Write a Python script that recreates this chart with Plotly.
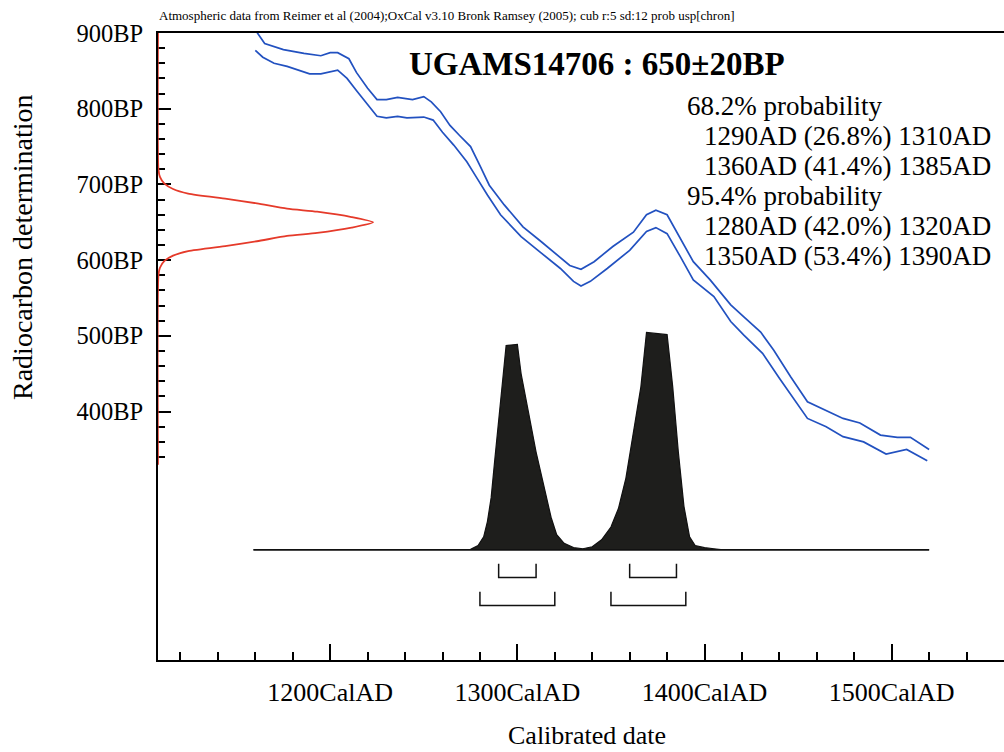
import plotly.graph_objects as go

# ---------------- data ----------------
# calibration curve (+/- 1 sigma envelope), CalAD vs BP
upper_years = [1160, 1165, 1175, 1186, 1195, 1200, 1204, 1210, 1214, 1220, 1225, 1230, 1236, 1244,
               1250, 1254, 1259, 1264, 1269, 1275, 1280, 1285, 1293, 1303, 1312, 1321, 1328, 1334,
               1341, 1351, 1362, 1369, 1374, 1380, 1387, 1394, 1403, 1414, 1421, 1430, 1437, 1446,
               1455, 1463, 1474, 1483, 1494, 1503, 1510, 1520]
upper_bp = [904, 886, 878, 873, 870, 874, 874, 866, 848, 827, 812, 812, 815, 812,
            816, 809, 796, 778, 765, 750, 725, 699, 673, 644, 626, 607, 593, 588,
            598, 618, 637, 660, 666, 660, 629, 598, 574, 541, 525, 505, 481, 446,
            413, 404, 391, 385, 369, 366, 366, 350]

lower_years = [1160, 1164, 1170, 1177, 1189, 1195, 1204, 1209, 1214, 1220, 1225, 1230, 1236, 1241,
               1250, 1255, 1260, 1266, 1273, 1278, 1284, 1291, 1302, 1312, 1323, 1330, 1334, 1339,
               1348, 1360, 1369, 1374, 1380, 1387, 1394, 1405, 1414, 1421, 1431, 1440, 1448, 1455,
               1465, 1474, 1485, 1497, 1508, 1519]
lower_bp = [877, 868, 860, 856, 846, 846, 851, 840, 824, 805, 790, 788, 790, 788,
            789, 785, 769, 752, 730, 710, 686, 660, 631, 611, 589, 572, 566, 572,
            589, 613, 638, 643, 635, 605, 574, 552, 519, 501, 477, 444, 415, 391,
            380, 367, 360, 344, 350, 335]

# calibrated probability distribution (relative density)
prob_years = [1159, 1270, 1275, 1279, 1282, 1284, 1286, 1288, 1291, 1294, 1300, 1302, 1306, 1310,
              1314, 1318, 1321, 1325, 1330, 1335, 1340, 1345, 1350, 1354, 1358, 1362, 1366, 1369,
              1380, 1383, 1386, 1389, 1392, 1395, 1400, 1405, 1410, 1520]
prob_density = [0, 0, 0.002, 0.02, 0.06, 0.13, 0.24, 0.42, 0.67, 0.94, 0.945, 0.81, 0.63, 0.45,
                0.3, 0.15, 0.07, 0.03, 0.01, 0.005, 0.014, 0.046, 0.105, 0.19, 0.33, 0.55, 0.75, 1.0,
                0.99, 0.75, 0.45, 0.2, 0.06, 0.02, 0.01, 0.005, 0, 0]

# radiocarbon determination 650 +/- 20 BP (relative density)
rc_bp = [900, 720, 710, 701, 694, 688, 681, 675, 668, 664, 657, 650, 643, 636, 632, 625,
         619, 612, 606, 599, 590, 580, 330]
rc_density = [0, 0.002, 0.009, 0.03, 0.07, 0.14, 0.32, 0.46, 0.6, 0.74, 0.9, 1.0, 0.9, 0.74, 0.6, 0.46,
              0.32, 0.14, 0.07, 0.03, 0.009, 0.002, 0]

range68 = [(1290, 1310), (1360, 1385)]
range95 = [(1280, 1320), (1350, 1390)]

x_tick_vals = [1200, 1300, 1400, 1500]
x_tick_text = ["1200CalAD", "1300CalAD", "1400CalAD", "1500CalAD"]
x_minor_vals = [v for v in range(1120, 1561, 20) if v % 100 != 0]
y_tick_vals = [400, 500, 600, 700, 800, 900]
y_tick_text = ["400BP", "500BP", "600BP", "700BP", "800BP", "900BP"]
y_minor_vals = [v for v in range(340, 900, 20) if v % 100 != 0]

title_text = "UGAMS14706 : 650±20BP"
header_text = ("Atmospheric data from Reimer et al (2004);OxCal v3.10 Bronk Ramsey (2005); "
               "cub r:5 sd:12 prob usp[chron]")
prob_lines = [
    ("68.2% probability", 0),
    ("1290AD (26.8%) 1310AD", 1),
    ("1360AD (41.4%) 1385AD", 1),
    ("95.4% probability", 0),
    ("1280AD (42.0%) 1320AD", 1),
    ("1350AD (53.4%) 1390AD", 1),
]

# ---------------- layout constants ----------------
X0, X1 = 1108, 1560
Y0, Y1 = 72, 900
DIST_BASE = 217.5      # BP level of distribution baseline
DIST_SCALE = 287.0     # BP per unit density
RC_SCALE = 114.9       # years per unit density (red curve)
BR68_Y, BR68_H = 181, 18
BR95_Y, BR95_H = 144, 18
FONT = "Liberation Serif"
W, H = 1004, 752
ML, MR, MT, MB = 158, 0, 33, 92
BLUE = "#2251c0"
RED = "#e53a2a"

fig = go.Figure()

# calibration curve
fig.add_trace(go.Scatter(x=upper_years, y=upper_bp, mode="lines",
                         line=dict(color=BLUE, width=1.7), hoverinfo="skip"))
fig.add_trace(go.Scatter(x=lower_years, y=lower_bp, mode="lines",
                         line=dict(color=BLUE, width=1.7), hoverinfo="skip"))

# calibrated distribution (filled)
dx = prob_years + prob_years[::-1]
dy = [DIST_BASE + p * DIST_SCALE for p in prob_density] + [DIST_BASE] * len(prob_years)
fig.add_trace(go.Scatter(x=dx, y=dy, mode="lines", fill="toself", fillcolor="#1e1e1c",
                         line=dict(color="#111111", width=1.2), hoverinfo="skip"))
fig.add_trace(go.Scatter(x=[prob_years[0], prob_years[-1]], y=[DIST_BASE, DIST_BASE], mode="lines",
                         line=dict(color="#111111", width=1.6), hoverinfo="skip"))

# range brackets
for ranges, yb, hh in ((range68, BR68_Y, BR68_H), (range95, BR95_Y, BR95_H)):
    for a, b in ranges:
        fig.add_trace(go.Scatter(x=[a, a, b, b], y=[yb + hh, yb, yb, yb + hh], mode="lines",
                                 line=dict(color="#111111", width=1.5), hoverinfo="skip"))

# radiocarbon determination curve
fig.add_trace(go.Scatter(x=[X0 + d * RC_SCALE for d in rc_density], y=rc_bp, mode="lines",
                         line=dict(color=RED, width=1.8, shape="spline", smoothing=0.6),
                         hoverinfo="skip"))

def px(xpix):
    return (xpix - ML) / (W - ML - MR)

def py(ypix):
    return (H - MB - ypix) / (H - MT - MB)

ann = []
ann.append(dict(text="<b>" + title_text + "</b>", x=px(407), y=py(64), xanchor="left",
                yanchor="middle", font=dict(family=FONT, size=33, color="black"), showarrow=False,
                xref="paper", yref="paper"))
ann.append(dict(text=header_text, x=px(157), y=py(15), xanchor="left", yanchor="middle",
                font=dict(family=FONT, size=13, color="black"), showarrow=False,
                xref="paper", yref="paper"))
for i, (t, ind) in enumerate(prob_lines):
    ann.append(dict(text=t, x=px(685 + 17 * ind), y=py(106 + 30 * i), xanchor="left",
                    yanchor="middle", font=dict(family=FONT, size=27, color="black"),
                    showarrow=False, xref="paper", yref="paper"))
ann.append(dict(text="Calibrated date", x=px(587), y=py(735), xanchor="center", yanchor="middle",
                font=dict(family=FONT, size=26, color="black"), showarrow=False,
                xref="paper", yref="paper"))
ann.append(dict(text="Radiocarbon determination", x=px(22), y=py(247), xanchor="center",
                yanchor="middle", textangle=-90,
                font=dict(family=FONT, size=28, color="black"), showarrow=False,
                xref="paper", yref="paper"))

fig.update_layout(
    width=W, height=H,
    margin=dict(l=ML, r=MR, t=MT, b=MB, pad=0),
    paper_bgcolor="white", plot_bgcolor="white",
    showlegend=False,
    annotations=ann,
    xaxis=dict(range=[X0, X1], showgrid=False, zeroline=False,
               showline=True, linecolor="black", linewidth=2, mirror=True,
               ticks="inside", ticklen=16, tickwidth=1.5, tickcolor="black",
               tickmode="array", tickvals=x_tick_vals, ticktext=x_tick_text,
               tickfont=dict(family=FONT, size=26, color="black"),
               ticklabelstandoff=8,
               minor=dict(tickmode="array", tickvals=x_minor_vals, ticks="inside",
                          ticklen=8, tickwidth=1.5, tickcolor="black"),
               layer="below traces"),
    yaxis=dict(range=[Y0, Y1], showgrid=False, zeroline=False,
               showline=True, linecolor="black", linewidth=2,
               ticks="inside", ticklen=13, tickwidth=1.5, tickcolor="black",
               tickmode="array", tickvals=y_tick_vals, ticktext=y_tick_text,
               tickfont=dict(family=FONT, size=24.5, color="black"),
               ticklabelstandoff=8,
               minor=dict(tickmode="array", tickvals=y_minor_vals, ticks="inside",
                          ticklen=7, tickwidth=1.5, tickcolor="black"),
               layer="below traces"),
)

fig.write_html("out.html", config={"displayModeBar": False},
               post_script="document.body.style.margin='0';document.body.style.padding='0';")
